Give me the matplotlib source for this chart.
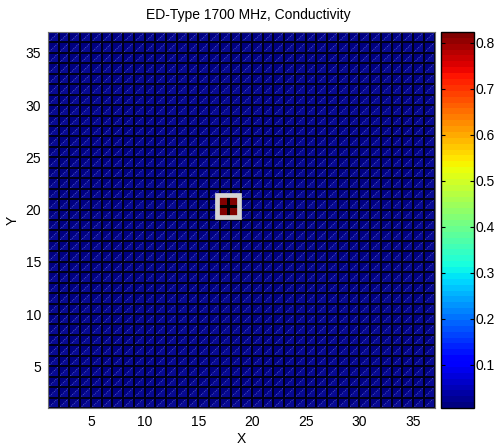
import matplotlib
matplotlib.use("Agg")
import matplotlib.pyplot as plt
import numpy as np
from matplotlib.collections import LineCollection, PolyCollection
from matplotlib.patches import Rectangle

# ── Data ──────────────────────────────────────────────────────
x_edges = np.arange(1, 38)          # grid nodes 1..37
y_edges = np.arange(1, 38)
background_sigma = 0.006            # conductivity of the bulk
peak_sigma = 0.823                  # conductivity of the inclusion
incl_x_edges = [16.75, 17.75, 18.75]
incl_y_edges = [19.25, 20.33, 21.4]
incl_values = [[0.823, 0.823],
               [0.823, 0.823]]
x_ticks = [5, 10, 15, 20, 25, 30, 35]
y_ticks = [5, 10, 15, 20, 25, 30, 35]
cbar_ticks = [0.1, 0.2, 0.3, 0.4, 0.5, 0.6, 0.7, 0.8]
title = "ED-Type 1700 MHz, Conductivity"
# ──────────────────────────────────────────────────────────────

plt.rcParams["font.family"] = ["Liberation Sans", "DejaVu Sans"]
plt.rcParams["font.size"] = 10

cmap = plt.get_cmap("jet", 64)
field = np.full((len(y_edges) - 1, len(x_edges) - 1), background_sigma)

fig = plt.figure(figsize=(4.97, 4.45), dpi=100)
ax = fig.add_axes([0.0966, 0.0831, 0.7777, 0.845])
cax = fig.add_axes([0.8867, 0.0831, 0.0676, 0.845])

mesh = ax.pcolormesh(x_edges, y_edges, field, cmap=cmap,
                     vmin=background_sigma, vmax=peak_sigma,
                     edgecolors="none", linewidth=0)

# lower-right triangles of each face are lit a little brighter
tris = []
for x in x_edges[:-1]:
    for y in y_edges[:-1]:
        tris.append([(x, y), (x + 1, y), (x + 1, y + 1)])
ax.add_collection(PolyCollection(tris, facecolors="#3040ff", alpha=0.15,
                                 edgecolors="none", zorder=1.2))

# faint diagonals of the triangulated faces
segs = []
lo, hi = x_edges[0], x_edges[-1]
for c in range(-(len(x_edges) - 2), len(x_edges) - 1):
    x0 = max(lo, lo + c)
    x1 = min(hi, hi + c)
    segs.append([(x0, x0 - c), (x1, x1 - c)])
ax.add_collection(LineCollection(segs, colors="#8c96f0", linewidths=0.5,
                                 linestyles=(0, (1.5, 1.5)), alpha=0.7,
                                 zorder=1.5))

# cell edges, crisp 2 px
grid_segs = [[(x, y_edges[0]), (x, y_edges[-1])] for x in x_edges]
grid_segs += [[(x_edges[0], y), (x_edges[-1], y)] for y in y_edges]
ax.add_collection(LineCollection(grid_segs, colors="#000018",
                                 linewidths=1.44, antialiaseds=False,
                                 zorder=2))

# inclusion and its highlight box
ax.pcolormesh(incl_x_edges, incl_y_edges, incl_values, cmap=cmap,
              vmin=background_sigma, vmax=peak_sigma,
              edgecolors="black", linewidth=1.0, zorder=3)
ax.add_patch(Rectangle((incl_x_edges[0], incl_y_edges[0]),
                       incl_x_edges[-1] - incl_x_edges[0],
                       incl_y_edges[-1] - incl_y_edges[0],
                       fill=False, edgecolor="#d4d4d4", linewidth=3.4,
                       zorder=4))

ax.set_xlim(x_edges[0], x_edges[-1])
ax.set_ylim(y_edges[0], y_edges[-1])
ax.set_xticks(x_ticks)
ax.set_yticks(y_ticks)
ax.tick_params(direction="in", length=3, width=0.6, top=True, right=True,
               labelsize=10, pad=5)
for sp in ax.spines.values():
    sp.set_color("#707070")
    sp.set_linewidth(0.8)
ax.set_xlabel("X", fontsize=10, labelpad=2)
ax.set_ylabel("Y", fontsize=10, labelpad=4)

fig.text(0.5, 0.966, title, ha="center", va="center", fontsize=10)

cb = fig.colorbar(mesh, cax=cax, ticks=cbar_ticks)
cb.ax.tick_params(direction="in", length=3, width=0.8, left=True, right=True,
                  labelsize=10, pad=1)
cb.ax.set_yticklabels([f"{t:g}" for t in cbar_ticks])
cb.outline.set_linewidth(1.0)

fig.savefig("out.png", dpi=100)
